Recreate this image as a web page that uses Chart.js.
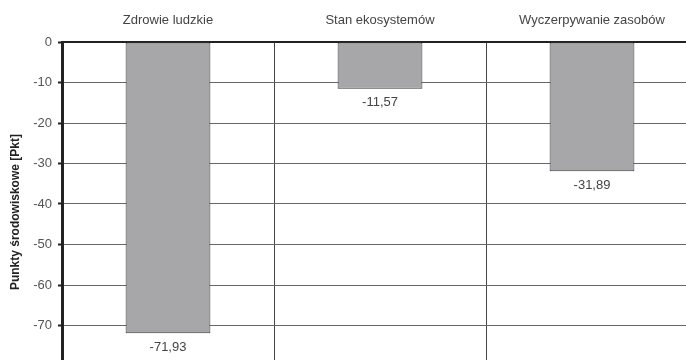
<!DOCTYPE html>
<html>
<head>
<meta charset="utf-8">
<script src="https://cdn.jsdelivr.net/npm/chart.js@4"></script>
<style>
  html, body { margin: 0; padding: 0; background: #fff; overflow: hidden; }
  #wrap { width: 700px; height: 396px; }
</style>
</head>
<body>
<div id="wrap"><canvas id="chart" width="700" height="396"></canvas></div>
<script>
// chart data
const categories = ['Zdrowie ludzkie', 'Stan ekosystemów', 'Wyczerpywanie zasobów'];
const points = [-71.93, -11.57, -31.89];
const yTicks = [0, -10, -20, -30, -40, -50, -60, -70, -80];
const yMin = -84, yMax = 0;

const fontFamily = '"Liberation Sans", Arial, sans-serif';

// value labels under each bar, with decimal comma
const valueLabels = {
    id: 'valueLabels',
    afterDatasetsDraw(chart) {
        const ctx = chart.ctx;
        const meta = chart.getDatasetMeta(0);
        ctx.save();
        ctx.font = '13px ' + fontFamily;
        ctx.fillStyle = '#444';
        ctx.textAlign = 'center';
        ctx.textBaseline = 'middle';
        meta.data.forEach((bar, i) => {
            ctx.fillText(points[i].toFixed(2).replace('.', ','), bar.x, bar.y + 14);
        });
        ctx.restore();
    }
};

const ctx = document.getElementById('chart').getContext('2d');
const chart = new Chart(ctx, {
    type: 'bar',
    data: {
        labels: categories,
        datasets: [{
            data: points,
            backgroundColor: '#a7a7aa',
            borderColor: '#3a3a3a',
            borderWidth: 1,
            borderSkipped: false,
            barPercentage: 1,
            categoryPercentage: 0.4
        }]
    },
    options: {
        responsive: false,
        animation: false,
        devicePixelRatio: 1,
        layout: { padding: { left: 0, right: 2, top: 0, bottom: 0 } },
        plugins: {
            legend: { display: false },
            tooltip: { enabled: false }
        },
        scales: {
            x: {
                position: 'top',
                afterFit: s => { s.height = 42; },
                grid: {
                    offset: true,
                    color: '#444',
                    lineWidth: 1,
                    drawTicks: false
                },
                border: { display: true, color: '#222', width: 2 },
                ticks: {
                    color: '#444',
                    padding: 14,
                    font: { family: fontFamily, size: 13 }
                }
            },
            y: {
                min: yMin,
                max: yMax,
                afterFit: s => { s.width = 62; },
                afterBuildTicks: s => { s.ticks = yTicks.map(v => ({ value: v })); },
                grid: {
                    color: '#666',
                    lineWidth: 1,
                    drawTicks: true,
                    tickLength: 4,
                    tickColor: '#222',
                    tickWidth: 2
                },
                border: { display: true, color: '#222', width: 3 },
                ticks: {
                    color: '#555',
                    padding: 6,
                    font: { family: fontFamily, size: 13 },
                    callback: v => String(v)
                },
                title: {
                    display: true,
                    text: 'Punkty środowiskowe [Pkt]',
                    color: '#222',
                    padding: { top: 8, bottom: 0 },
                    font: { family: fontFamily, size: 12, weight: 'bold' }
                }
            }
        }
    },
    plugins: [valueLabels]
});
</script>
</body>
</html>
